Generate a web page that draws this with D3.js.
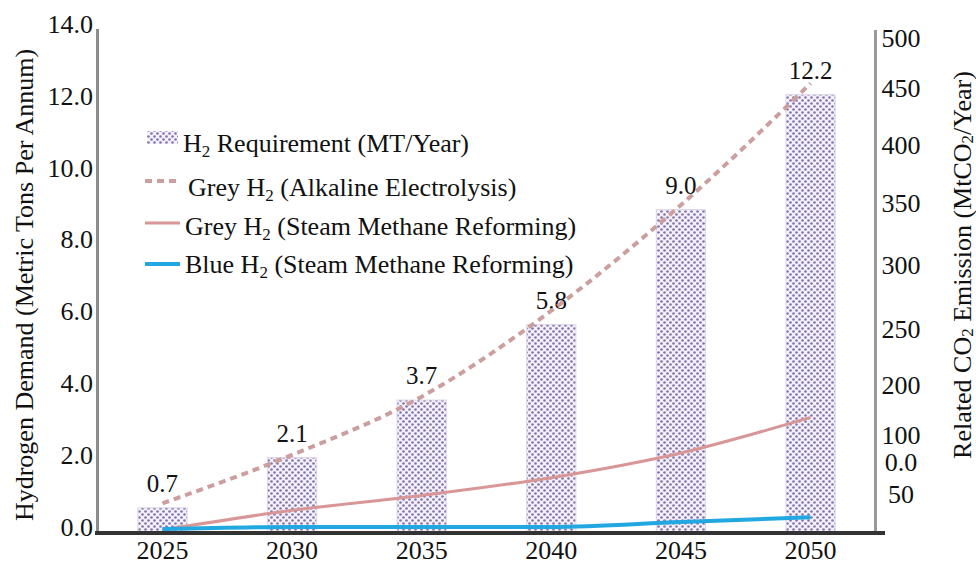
<!DOCTYPE html>
<html>
<head>
<meta charset="utf-8">
<script src="https://cdn.jsdelivr.net/npm/d3@7"></script>
<style>
    body { margin: 0; background: #fff; }
    text { font-family: "Liberation Serif", "Times New Roman", serif; fill: #111; }
</style>
</head>
<body>
<svg id="chart" width="976" height="565"></svg>
<script>
// dados
const years = ["2025", "2030", "2035", "2040", "2045", "2050"];
const h2Demand = [0.7, 2.1, 3.7, 5.8, 9.0, 12.2];
const greyAlkaline = [28, 77, 136, 223, 330, 453];
const greySmr = [1, 21, 36, 54, 79, 115];
const blueSmr = [2, 4, 4, 4, 9, 14];
const leftTicks = [0, 2, 4, 6, 8, 10, 12, 14];
const rightTicks = ["500", "450", "400", "350", "300", "250", "200", "100", "0.0", "50"];

// layout
const rightTickY = [38, 88, 145, 203, 265, 329, 385, 435, 462, 494];
const FONT = 26;

const svg = d3.select("#chart");

const x = d3.scaleBand()
    .domain(years)
    .range([97, 876])
    .paddingInner(0.62)
    .paddingOuter(0.315);

const y = d3.scaleLinear().domain([0, 14]).range([533, 30]);
const yRight = d3.scaleLinear().domain([0, 500]).range([531, 37]);
const yRightLabel = d3.scaleOrdinal().domain(rightTicks).range(rightTickY);

const cx = d => x(d) + x.bandwidth() / 2;

// padrao xadrez das barras
const defs = svg.append("defs");
const pat = defs.append("pattern")
    .attr("id", "checker")
    .attr("patternUnits", "userSpaceOnUse")
    .attr("width", 6)
    .attr("height", 6);
pat.append("rect").attr("width", 6).attr("height", 6).attr("fill", "#f4f1f8");
pat.append("circle").attr("cx", 1.5).attr("cy", 1.5).attr("r", 1.35).attr("fill", "#8576b0");
pat.append("circle").attr("cx", 4.5).attr("cy", 4.5).attr("r", 1.35).attr("fill", "#8576b0");

// barras
svg.append("g").selectAll("rect")
    .data(h2Demand)
    .join("rect")
    .attr("x", (d, i) => x(years[i]))
    .attr("y", d => y(d))
    .attr("width", x.bandwidth())
    .attr("height", d => y(0) - y(d))
    .attr("fill", "url(#checker)")
    .attr("stroke", "#ddd6ea")
    .attr("stroke-width", 1);

// rotulos das barras
svg.append("g").selectAll("text")
    .data(h2Demand)
    .join("text")
    .attr("x", (d, i) => cx(years[i]))
    .attr("y", d => y(d) - 16)
    .attr("text-anchor", "middle")
    .attr("font-size", 25)
    .text(d => d.toFixed(1));

// linhas
const line = d3.line()
    .x((d, i) => cx(years[i]))
    .y(d => yRight(d))
    .curve(d3.curveMonotoneX);

svg.append("path")
    .datum(greySmr)
    .attr("d", line)
    .attr("fill", "none")
    .attr("stroke", "#d99696")
    .attr("stroke-width", 3);

svg.append("path")
    .datum(greyAlkaline)
    .attr("d", line)
    .attr("fill", "none")
    .attr("stroke", "#cc9e9e")
    .attr("stroke-width", 4)
    .attr("stroke-dasharray", "7,5");

svg.append("path")
    .datum(blueSmr)
    .attr("d", line)
    .attr("fill", "none")
    .attr("stroke", "#22a8e0")
    .attr("stroke-width", 4);

// eixos
svg.append("line")
    .attr("x1", 97.5).attr("x2", 97.5)
    .attr("y1", 29).attr("y2", 533)
    .attr("stroke", "#8c8c8c").attr("stroke-width", 3);

svg.append("line")
    .attr("x1", 875.5).attr("x2", 875.5)
    .attr("y1", 30).attr("y2", 533)
    .attr("stroke", "#9a9a9a").attr("stroke-width", 3);

svg.append("line")
    .attr("x1", 95).attr("x2", 885)
    .attr("y1", 533).attr("y2", 533)
    .attr("stroke", "#333").attr("stroke-width", 4);

const leftAxis = svg.append("g")
    .attr("transform", "translate(97,0)")
    .call(d3.axisLeft(y).tickValues(leftTicks).tickSize(0).tickPadding(4).tickFormat(d3.format(".1f")));
leftAxis.select(".domain").remove();
leftAxis.selectAll("text")
    .attr("y", -6)
    .attr("font-size", FONT)
    .attr("font-family", null)
    .style("fill", "#111");

const bottomAxis = svg.append("g")
    .attr("transform", "translate(0,533)")
    .call(d3.axisBottom(x).tickSize(0).tickPadding(8));
bottomAxis.select(".domain").remove();
bottomAxis.selectAll("text")
    .attr("font-size", FONT)
    .attr("font-family", null)
    .style("fill", "#111");

svg.append("g").selectAll("text")
    .data(rightTicks)
    .join("text")
    .attr("x", 901)
    .attr("y", d => yRightLabel(d))
    .attr("dy", "0.35em")
    .attr("text-anchor", "middle")
    .attr("font-size", FONT)
    .text(d => d);

// texto com subscrito
function addRich(sel, parts) {
    parts.forEach(p => {
        if (p.sub) {
            sel.append("tspan").attr("font-size", 17).attr("dy", 5).text(p.t);
        } else {
            const t = sel.append("tspan").text(p.t);
            if (p.back) t.attr("dy", -5);
        }
    });
}

// titulos dos eixos
svg.append("text")
    .attr("transform", "translate(24,285) rotate(-90)")
    .attr("text-anchor", "middle")
    .attr("dominant-baseline", "central")
    .attr("font-size", FONT)
    .text("Hydrogen Demand (Metric Tons Per Annum)");

const rightTitle = svg.append("text")
    .attr("transform", "translate(962,265) rotate(-90)")
    .attr("text-anchor", "middle")
    .attr("dominant-baseline", "central")
    .attr("font-size", FONT);
addRich(rightTitle, [
    { t: "Related CO" }, { t: "2", sub: true }, { t: " Emission (MtCO", back: true },
    { t: "2", sub: true }, { t: "/Year)", back: true }
]);

// legenda
const legend = svg.append("g");
legend.append("rect")
    .attr("x", 147).attr("y", 131).attr("width", 31).attr("height", 13)
    .attr("fill", "url(#checker)");
legend.append("line")
    .attr("x1", 145).attr("x2", 180).attr("y1", 181).attr("y2", 181)
    .attr("stroke", "#cc9e9e").attr("stroke-width", 4).attr("stroke-dasharray", "7,5");
legend.append("line")
    .attr("x1", 145).attr("x2", 180).attr("y1", 223).attr("y2", 223)
    .attr("stroke", "#d99696").attr("stroke-width", 3);
legend.append("line")
    .attr("x1", 145).attr("x2", 180).attr("y1", 264).attr("y2", 264)
    .attr("stroke", "#22a8e0").attr("stroke-width", 4);

const legendItems = [
    { x: 183, y: 152, parts: [{ t: "H" }, { t: "2", sub: true }, { t: " Requirement (MT/Year)", back: true }] },
    { x: 188, y: 196, parts: [{ t: "Grey H" }, { t: "2", sub: true }, { t: " (Alkaline Electrolysis)", back: true }] },
    { x: 185, y: 235, parts: [{ t: "Grey H" }, { t: "2", sub: true }, { t: " (Steam Methane Reforming)", back: true }] },
    { x: 185, y: 273, parts: [{ t: "Blue H" }, { t: "2", sub: true }, { t: " (Steam Methane Reforming)", back: true }] }
];
legendItems.forEach(item => {
    const t = legend.append("text")
        .attr("x", item.x)
        .attr("y", item.y)
        .attr("font-size", FONT);
    addRich(t, item.parts);
});
</script>
</body>
</html>
